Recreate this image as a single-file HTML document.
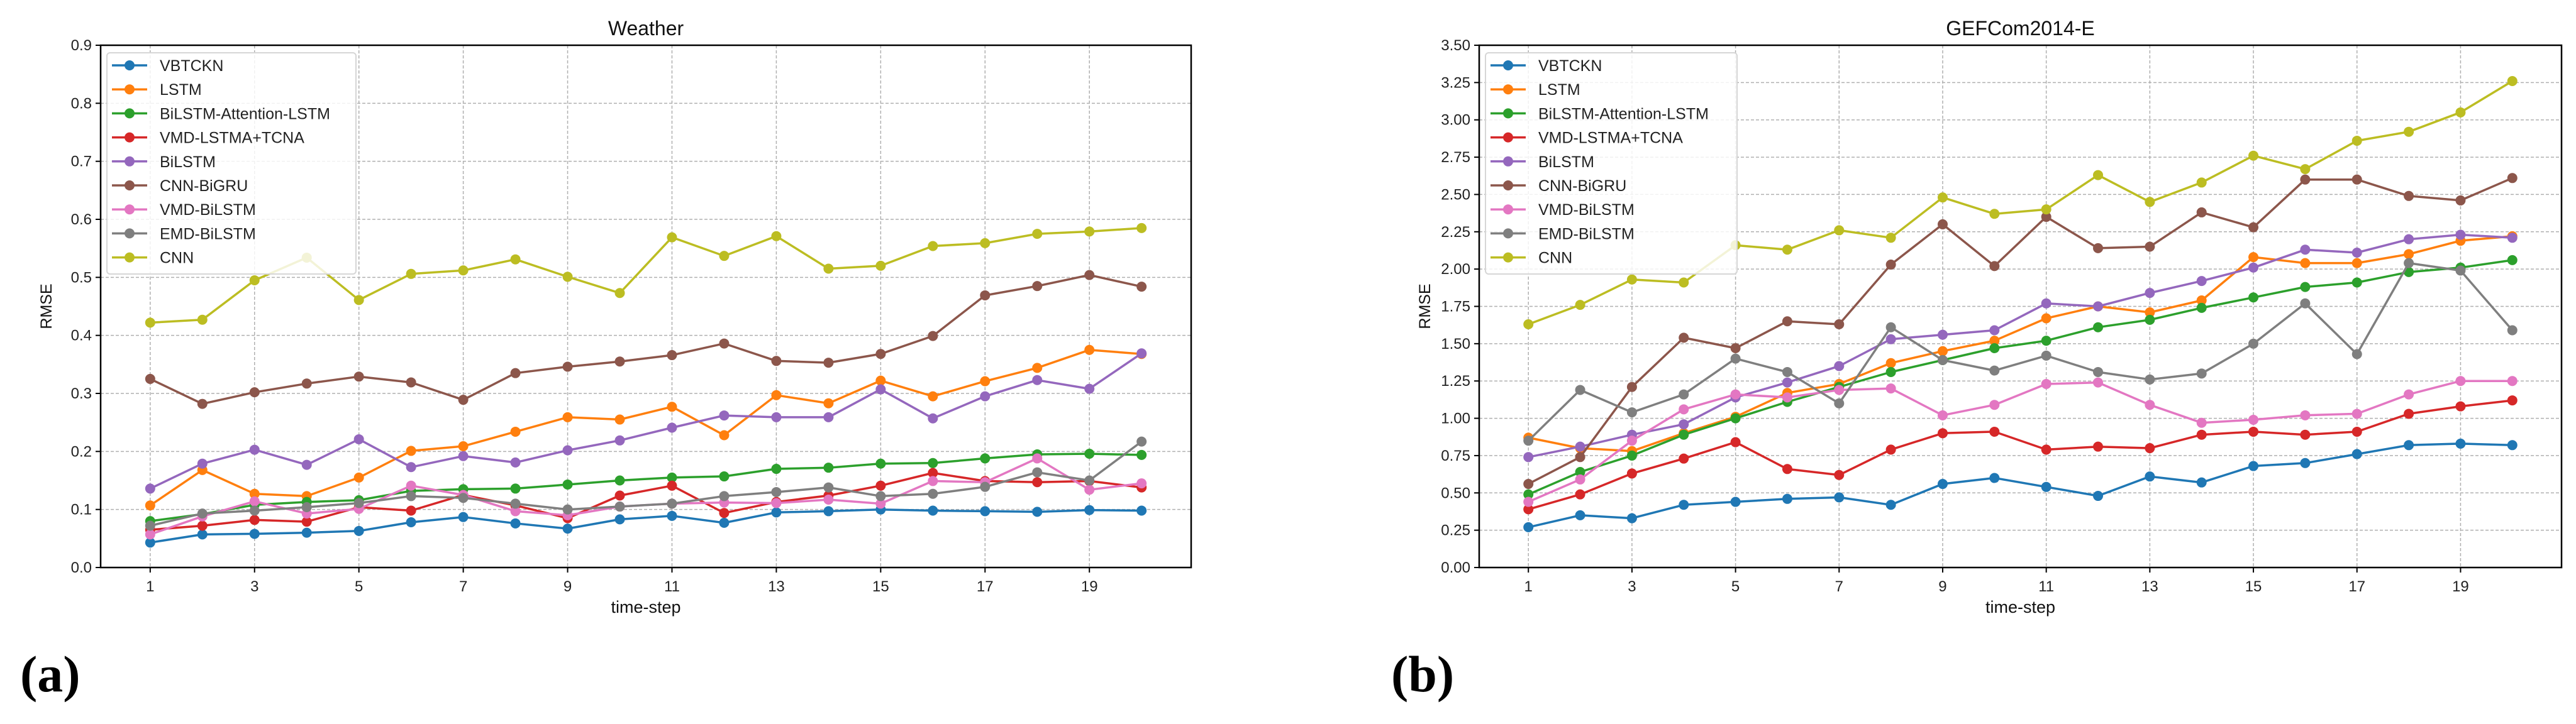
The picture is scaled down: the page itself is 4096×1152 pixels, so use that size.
<!DOCTYPE html>
<html><head><meta charset="utf-8"><style>
html,body{margin:0;padding:0;background:#fff;}
svg{display:block;font-family:"Liberation Sans",sans-serif;}
</style></head><body>
<svg id="root" width="4096" height="1152" viewBox="0 0 4096 1152" xmlns="http://www.w3.org/2000/svg">
<text x="32" y="1100" font-family="Liberation Serif, serif" font-weight="bold" font-size="82">(a)</text>
<text x="2212" y="1100" font-family="Liberation Serif, serif" font-weight="bold" font-size="82">(b)</text>
</svg>
<script>
const seriesNames = ["VBTCKN","LSTM","BiLSTM-Attention-LSTM","VMD-LSTMA+TCNA","BiLSTM","CNN-BiGRU","VMD-BiLSTM","EMD-BiLSTM","CNN"];
const colors = ["#1f77b4","#ff7f0e","#2ca02c","#d62728","#9467bd","#8c564b","#e377c2","#7f7f7f","#bcbd22"];
const timeSteps = [1,2,3,4,5,6,7,8,9,10,11,12,13,14,15,16,17,18,19,20];
const xTicks = [1,3,5,7,9,11,13,15,17,19];

const wVBTCKN = [0.043,0.057,0.058,0.060,0.063,0.078,0.087,0.076,0.067,0.083,0.089,0.077,0.095,0.097,0.100,0.098,0.097,0.096,0.099,0.098];
const wLSTM = [0.107,0.168,0.127,0.123,0.155,0.201,0.209,0.234,0.259,0.255,0.277,0.228,0.297,0.283,0.322,0.295,0.321,0.344,0.375,0.368];
const wBAL = [0.080,0.092,0.108,0.113,0.116,0.132,0.135,0.136,0.143,0.150,0.155,0.157,0.170,0.172,0.179,0.180,0.188,0.195,0.196,0.194];
const wVMDT = [0.065,0.072,0.082,0.079,0.104,0.098,0.125,0.107,0.085,0.124,0.141,0.094,0.113,0.124,0.141,0.163,0.149,0.147,0.149,0.138];
const wBiLSTM = [0.136,0.179,0.203,0.177,0.221,0.173,0.192,0.181,0.202,0.219,0.241,0.262,0.259,0.259,0.307,0.257,0.295,0.323,0.308,0.369];
const wCNNBiGRU = [0.325,0.282,0.302,0.317,0.329,0.319,0.289,0.335,0.346,0.355,0.366,0.386,0.356,0.353,0.368,0.399,0.469,0.485,0.504,0.484];
const wVMDBi = [0.057,0.088,0.114,0.093,0.101,0.141,0.125,0.097,0.090,0.105,0.110,0.112,0.111,0.117,0.110,0.149,0.147,0.188,0.134,0.145];
const wEMDBi = [0.072,0.093,0.098,0.104,0.111,0.123,0.120,0.110,0.100,0.105,0.110,0.123,0.130,0.138,0.123,0.127,0.139,0.164,0.150,0.217];
const wCNN = [0.422,0.427,0.495,0.534,0.461,0.506,0.512,0.531,0.501,0.473,0.569,0.537,0.571,0.515,0.520,0.554,0.559,0.575,0.579,0.585];
const weatherYTicks = ["0.0","0.1","0.2","0.3","0.4","0.5","0.6","0.7","0.8","0.9"];

const gVBTCKN = [0.27,0.35,0.33,0.42,0.44,0.46,0.47,0.42,0.56,0.60,0.54,0.48,0.61,0.57,0.68,0.70,0.76,0.82,0.83,0.82];
const gLSTM = [0.87,0.80,0.78,0.90,1.01,1.17,1.23,1.37,1.45,1.52,1.67,1.75,1.71,1.79,2.08,2.04,2.04,2.10,2.19,2.22];
const gBAL = [0.49,0.64,0.75,0.89,1.00,1.11,1.21,1.31,1.39,1.47,1.52,1.61,1.66,1.74,1.81,1.88,1.91,1.98,2.01,2.06];
const gVMDT = [0.39,0.49,0.63,0.73,0.84,0.66,0.62,0.79,0.90,0.91,0.79,0.81,0.80,0.89,0.91,0.89,0.91,1.03,1.08,1.12];
const gBiLSTM = [0.74,0.81,0.89,0.96,1.14,1.24,1.35,1.53,1.56,1.59,1.77,1.75,1.84,1.92,2.01,2.13,2.11,2.20,2.23,2.21];
const gCNNBiGRU = [0.56,0.74,1.21,1.54,1.47,1.65,1.63,2.03,2.30,2.02,2.35,2.14,2.15,2.38,2.28,2.60,2.60,2.49,2.46,2.61];
const gVMDBi = [0.44,0.59,0.85,1.06,1.16,1.14,1.19,1.20,1.02,1.09,1.23,1.24,1.09,0.97,0.99,1.02,1.03,1.16,1.25,1.25];
const gEMDBi = [0.85,1.19,1.04,1.16,1.40,1.31,1.10,1.61,1.39,1.32,1.42,1.31,1.26,1.30,1.50,1.77,1.43,2.04,1.99,1.59];
const gCNN = [1.63,1.76,1.93,1.91,2.16,2.13,2.26,2.21,2.48,2.37,2.40,2.63,2.45,2.58,2.76,2.67,2.86,2.92,3.05,3.26];
const gefYTicks = ["0.00","0.25","0.50","0.75","1.00","1.25","1.50","1.75","2.00","2.25","2.50","2.75","3.00","3.25","3.50"];

const NS = "http://www.w3.org/2000/svg";
const root = document.getElementById('root');
function mk(tag, attrs, parent){const e=document.createElementNS(NS,tag);for(const k in attrs)e.setAttribute(k,attrs[k]);(parent||root).appendChild(e);return e;}

function drawChart(opt){
  const {key,left,right,top,bottom,ymax,yTicks,title,series,legendRight} = opt;
  const g = mk('g',{});
  
  
  const xmin=0.05,xmax=20.95;
  const xs = v => left + (v-xmin)/(xmax-xmin)*(right-left);
  const ys = v => bottom - v/ymax*(bottom-top);
  // grid
  yTicks.forEach(t=>{
    const v=parseFloat(t), y=ys(v);
    const gl=mk('line',{x1:left,x2:right,y1:y,y2:y,stroke:'#b0b0b0','stroke-width':1.5,'stroke-dasharray':'5,3'},g);
    
    
    mk('line',{x1:left-8,x2:left,y1:y,y2:y,stroke:'#000','stroke-width':2},g);
    const tx=mk('text',{x:left-14,y:y+8,'text-anchor':'end','font-size':24,fill:'#222'},g);
    tx.textContent=t;
    
    
  });
  xTicks.forEach(t=>{
    const x=xs(t);
    const gl=mk('line',{x1:x,x2:x,y1:top,y2:bottom,stroke:'#b0b0b0','stroke-width':1.5,'stroke-dasharray':'5,3'},g);
    
    
    mk('line',{x1:x,x2:x,y1:bottom,y2:bottom+8,stroke:'#000','stroke-width':2},g);
    const tx=mk('text',{x:x,y:bottom+38,'text-anchor':'middle','font-size':24,fill:'#222'},g);
    tx.textContent=t;
    
    
  });
  // series
  series.forEach((vals,i)=>{
    const sg=mk('g',{},g);
    
    
    const pts=vals.map((v,j)=>xs(timeSteps[j]).toFixed(1)+','+ys(v).toFixed(1)).join(' ');
    mk('polyline',{points:pts,fill:'none',stroke:colors[i],'stroke-width':3.5,'stroke-linejoin':'round'},sg);
    vals.forEach((v,j)=>{
      const c=mk('circle',{cx:xs(timeSteps[j]),cy:ys(v),r:8,fill:colors[i]},sg);
      
      
    });
  });
  // frame
  const fr=mk('rect',{x:left,y:top,width:right-left,height:bottom-top,fill:'none',stroke:'#000','stroke-width':2.5},g);
  
  
  // legend
  const lg=mk('g',{},g);
  
  
  const lx=left+10, ly=top+12;
  mk('rect',{x:lx,y:ly,width:legendRight-lx,height:352,rx:5,fill:'#fff','fill-opacity':0.82,stroke:'#d6d6d6','stroke-width':2},lg);
  seriesNames.forEach((n,i)=>{
    const y=ly+20+i*38.2;
    const le=mk('g',{},lg);
    
    
    mk('line',{x1:lx+8,x2:lx+64,y1:y,y2:y,stroke:colors[i],'stroke-width':3.5},le);
    mk('circle',{cx:lx+36,cy:y,r:8,fill:colors[i]},le);
    const t=mk('text',{x:lx+84,y:y+9,'font-size':25,fill:'#222'},le);
    t.textContent=n;
  });
  // title & labels
  const cx=(left+right)/2;
  const tt=mk('text',{x:cx,y:56,'text-anchor':'middle','font-size':32,fill:'#111'},g);
  tt.textContent=title;
  
  
  const xl=mk('text',{x:cx,y:975,'text-anchor':'middle','font-size':27,fill:'#111'},g);
  xl.textContent='time-step';
  
  
  const yl=mk('text',{x:0,y:0,'text-anchor':'middle','font-size':25,fill:'#111',transform:'translate('+(left-78)+','+((top+bottom)/2)+') rotate(-90)'},g);
  yl.textContent='RMSE';
  
  
}

drawChart({key:'weather',left:160,right:1894,top:72,bottom:903,ymax:0.9,yTicks:weatherYTicks,title:'Weather',
  series:[wVBTCKN,wLSTM,wBAL,wVMDT,wBiLSTM,wCNNBiGRU,wVMDBi,wEMDBi,wCNN],legendRight:566});
drawChart({key:'gefcom',left:2352,right:4073,top:72,bottom:903,ymax:3.5,yTicks:gefYTicks,title:'GEFCom2014-E',
  series:[gVBTCKN,gLSTM,gBAL,gVMDT,gBiLSTM,gCNNBiGRU,gVMDBi,gEMDBi,gCNN],legendRight:2762});
</script>
</body></html>
